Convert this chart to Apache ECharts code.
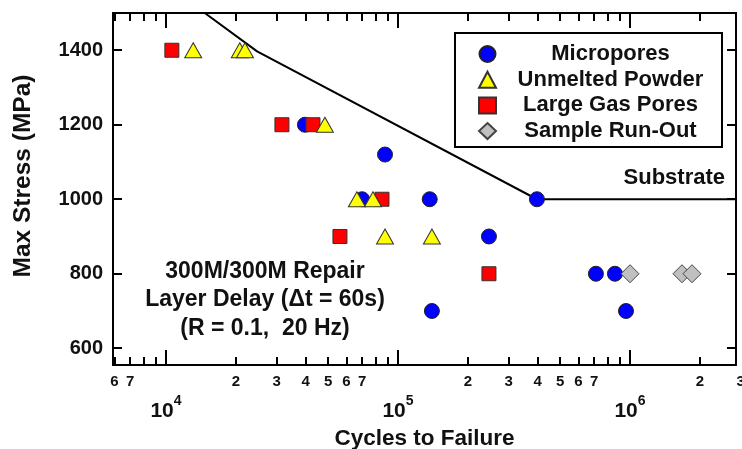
<!DOCTYPE html>
<html><head><meta charset="utf-8">
<script src="https://cdn.jsdelivr.net/npm/echarts@6/dist/echarts.min.js"></script>
<style>html,body{margin:0;padding:0;background:#fff}#c{width:742px;height:449px}</style>
</head><body><div id="c"></div>
<script>
// ---- data (cycles to failure, max stress MPa) ----
const micropores = [[39700,1200],[87900,1120],[70000,1000],[137000,1000],[397000,1000],[246600,900],[140000,700],[713000,800],[861000,800],[961000,700]];
const unmeltedPowder = [[13100,1400],[20800,1400],[21900,1400],[48400,1200],[66500,1000],[78000,1000],[87900,900],[140000,900]];
const largeGasPores = [[10600,1400],[31600,1200],[43000,1200],[85300,1000],[56200,900],[246600,800]];
const sampleRunOut = [[1000000,800],[1675000,800],[1850000,800]];
const substrateLine = [[14700,1500],[24700,1397],[397000,1000],[3000000,1000]];

// ---- axes / ticks ----
const xMin = 5910, xMax = 2863000;
const yMin = 555, yMax = 1500;
const yTicks = [600,800,1000,1200,1400];
const decadeTicks = [10000,100000,1000000];
const minorTicks = [6000,7000,8000,9000,20000,30000,40000,50000,60000,70000,80000,90000,200000,300000,400000,500000,600000,700000,800000,900000,2000000];
const minorLabelValues = [6000,7000,20000,30000,40000,50000,60000,70000,200000,300000,400000,500000,600000,700000,2000000,3000000];
const legendNames = ['Micropores','Unmelted Powder','Large Gas Pores','Sample Run-Out'];

const FONT = '"Liberation Sans", Arial, sans-serif';
const INK = '#111';
const lead = v => String(Math.round(v / Math.pow(10, Math.floor(Math.log10(v) + 1e-9))));

const chart = echarts.init(document.getElementById('c'), null, {renderer:'canvas', width:742, height:449});
const axLine = {show:true, onZero:false, lineStyle:{color:'#000', width:2}};
const baseX = {type:'log', logBase:10, min:xMin, max:xMax, gridIndex:0, splitLine:{show:false}, minorTick:{show:false}};

const option = {
  animation:false,
  backgroundColor:'#fff',
  textStyle:{fontFamily:FONT},
  grid:{left:113, right:6, top:13, bottom:84, containLabel:false, outerBoundsMode:'none'},
  xAxis:[
    Object.assign({}, baseX, {position:'bottom', axisLine:axLine,
      axisTick:{show:true, inside:true, length:8, customValues:minorTicks, lineStyle:{color:'#000', width:2}},
      axisLabel:{show:true, customValues:minorLabelValues, formatter:v=>lead(v), fontSize:15, fontWeight:'bold', color:INK, margin:9, fontFamily:FONT},
      name:'Cycles to Failure', nameLocation:'middle', nameGap:62,
      nameTextStyle:{fontSize:22.5, fontWeight:'bold', color:INK, fontFamily:FONT}}),
    Object.assign({}, baseX, {position:'bottom', axisLine:{show:false, onZero:false},
      axisTick:{show:true, inside:true, length:15, customValues:decadeTicks, lineStyle:{color:'#000', width:2}},
      axisLabel:{show:true, customValues:decadeTicks, margin:29,
        formatter:v=>'{b|10}{s|' + Math.round(Math.log10(v)) + '}',
        rich:{b:{fontSize:21, fontWeight:'bold', color:INK, lineHeight:28, verticalAlign:'bottom', fontFamily:FONT},
              s:{fontSize:14, fontWeight:'bold', color:INK, lineHeight:14, verticalAlign:'top', fontFamily:FONT}}}}),
    Object.assign({}, baseX, {position:'top', axisLine:axLine,
      axisTick:{show:true, inside:true, length:8, customValues:minorTicks, lineStyle:{color:'#000', width:2}},
      axisLabel:{show:false}}),
    Object.assign({}, baseX, {position:'top', axisLine:{show:false, onZero:false},
      axisTick:{show:true, inside:true, length:15, customValues:decadeTicks, lineStyle:{color:'#000', width:2}},
      axisLabel:{show:false}})
  ],
  yAxis:[
    {type:'value', min:yMin, max:yMax, position:'left', axisLine:axLine, splitLine:{show:false},
      axisTick:{show:true, inside:true, length:9, customValues:yTicks, lineStyle:{color:'#000', width:2}},
      axisLabel:{show:true, customValues:yTicks, formatter:v=>String(v), fontSize:20, fontWeight:'bold', color:INK, margin:10, fontFamily:FONT},
      name:'Max Stress (MPa)', nameLocation:'middle', nameGap:77,
      nameTextStyle:{fontSize:24.5, fontWeight:'bold', color:INK, fontFamily:FONT, padding:[0,0,0,26]}},
    {type:'value', min:yMin, max:yMax, position:'right', axisLine:axLine, splitLine:{show:false},
      axisTick:{show:true, inside:true, length:9, customValues:yTicks, lineStyle:{color:'#000', width:2}},
      axisLabel:{show:false}}
  ],
  legend:{
    data:legendNames, orient:'vertical', left:455, top:33,
    backgroundColor:'#fff', borderColor:'#000', borderWidth:2, borderRadius:0,
    padding:[10, 2, 5, 23], itemGap:3.7, itemWidth:17, itemHeight:16,
    formatter:n=>'{c|' + n + '}',
    textStyle:{fontSize:22, fontWeight:'bold', color:INK, fontFamily:FONT,
      rich:{c:{width:219, align:'center', fontSize:22, fontWeight:'bold', color:INK, lineHeight:20, fontFamily:FONT}}},
    selectedMode:false
  },
  series:[
    {name:'Substrate', type:'line', data:substrateLine, showSymbol:false, symbol:'none', clip:true, z:1,
      lineStyle:{color:'#000', width:2}, silent:true},
    {name:'Micropores', type:'scatter', data:micropores, symbol:'circle', symbolSize:15, z:2,
      itemStyle:{color:'#0000ff', borderColor:'#222', borderWidth:1, opacity:1}},
    {name:'Large Gas Pores', type:'scatter', data:largeGasPores, symbol:'rect', symbolSize:14, z:3,
      itemStyle:{color:'#ff0000', borderColor:'#333', borderWidth:1, opacity:1}},
    {name:'Unmelted Powder', type:'scatter', data:unmeltedPowder, symbol:'triangle', symbolSize:[17,15], z:4,
      itemStyle:{color:'#ffff00', borderColor:'#333', borderWidth:1, opacity:1}},
    {name:'Sample Run-Out', type:'scatter', data:sampleRunOut, symbol:'diamond', symbolSize:18, z:5,
      itemStyle:{color:'#c0c0c0', borderColor:'#444', borderWidth:1, opacity:1}}
  ],
  graphic:[
    {type:'text', x:265, y:257, style:{text:'300M/300M Repair\nLayer Delay (\u0394t = 60s)\n(R = 0.1,  20 Hz)', align:'center', verticalAlign:'top',
      font:'bold 23px ' + FONT, fill:INK, lineHeight:28.5}},
    {type:'text', x:725, y:178, style:{text:'Substrate', align:'right', verticalAlign:'middle', font:'bold 22px ' + FONT, fill:INK}}
  ]
};
chart.setOption(option);

// minor labels that fall just beyond the axis max (clipped at the right edge)
const extra = [];
minorLabelValues.filter(v => v > xMax).forEach(v => {
  const p = chart.convertToPixel({xAxisIndex:0}, v);
  extra.push({type:'text', x:p, y:374, style:{text:lead(v), align:'center', verticalAlign:'top', font:'bold 15px ' + FONT, fill:INK}});
});
chart.setOption({graphic: option.graphic.concat(extra)});
</script>
</body></html>
